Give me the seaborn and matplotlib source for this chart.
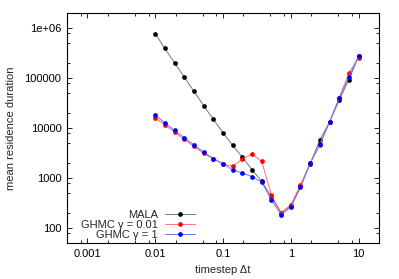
import matplotlib
matplotlib.use("Agg")
import matplotlib.pyplot as plt
import matplotlib.ticker as mticker
import seaborn as sns
import pandas as pd

# timesteps (log spaced, 7 per decade)
timestep = [0.01, 0.0139, 0.0193, 0.0268, 0.0373, 0.0518, 0.072, 0.1, 0.139, 0.193, 0.268,
            0.373, 0.518, 0.72, 1.0, 1.39, 1.93, 2.68, 3.73, 5.18, 7.2, 10.0]

mala = [7.7e5, 3.9e5, 2.0e5, 1.05e5, 5.4e4, 2.8e4, 1.5e4, 8.0e3, 4.5e3, 2.6e3, 1.46e3,
        855, 420, 200, 275, 690, 1.9e3, 5.8e3, 1.32e4, 3.6e4, 9.3e4, 2.7e5]
ghmc_001 = [1.59e4, 1.15e4, 8.3e3, 5.9e3, 4.27e3, 3.09e3, 2.42e3, 1.89e3, 1.73e3, 2.39e3, 3.0e3,
            2.14e3, 452, 202, 292, 725, 1.98e3, 4.56e3, 1.32e4, 4.0e4, 1.27e5, 2.5e5]
ghmc_1 = [1.82e4, 1.26e4, 8.95e3, 6.4e3, 4.6e3, 3.3e3, 2.45e3, 1.92e3, 1.46e3, 1.25e3, 1.07e3,
          824, 363, 184, 259, 645, 1.98e3, 4.69e3, 1.32e4, 4.0e4, 1.06e5, 2.74e5]

labels = ["MALA", "GHMC \u03b3 = 0.01", "GHMC \u03b3 = 1"]
marker_colors = ["black", "red", "blue"]
line_colors = ["#777777", "#ff7070", "#7070ff"]

df = pd.concat([
    pd.DataFrame({"dt": timestep, "dur": mala, "method": labels[0]}),
    pd.DataFrame({"dt": timestep, "dur": ghmc_001, "method": labels[1]}),
    pd.DataFrame({"dt": timestep, "dur": ghmc_1, "method": labels[2]}),
])

sns.set_style("ticks")
plt.rcParams["font.family"] = ["Liberation Sans", "DejaVu Sans"]

fig = plt.figure(figsize=(3.99, 2.79), dpi=100)
ax = fig.add_axes([67 / 399, 36 / 279, 312 / 399, 230 / 279])

sns.lineplot(data=df, x="dt", y="dur", hue="method", style="method",
             palette=dict(zip(labels, marker_colors)), markers=["o", "o", "o"],
             dashes=False, linewidth=0.7, markersize=3.4, markeredgewidth=0,
             ax=ax, legend=False)

# thin light lines, solid dots (gnuplot look)
for line, lc, mc in zip(ax.lines, line_colors, marker_colors):
    line.set_color(lc)
    line.set_markerfacecolor(mc)
    line.set_markeredgecolor(mc)

ax.set_xscale("log")
ax.set_yscale("log")
ax.set_xlim(0.0005, 20)
ax.set_ylim(50, 2e6)

fmt = mticker.FuncFormatter(lambda v, p: "%g" % v)
for axis in (ax.xaxis, ax.yaxis):
    axis.set_major_locator(mticker.LogLocator(base=10, numticks=20))
    axis.set_minor_locator(mticker.LogLocator(base=10, subs=[2, 5, 8], numticks=20))
    axis.set_major_formatter(fmt)
    axis.set_minor_formatter(mticker.NullFormatter())

ax.tick_params(which="both", direction="in", top=True, right=True, width=0.6,
               labelsize=8, colors="black")
ax.tick_params(which="major", length=3.5, pad=4)
ax.tick_params(which="minor", length=2)
for s in ax.spines.values():
    s.set_linewidth(0.8)
    s.set_color("black")

ax.set_xlabel("timestep \u0394t", fontsize=8, labelpad=4.5)
ax.set_ylabel("mean residence duration", fontsize=8, labelpad=6)

handles = [plt.Line2D([], [], color=lc, lw=0.7, marker="o", markersize=3.4,
                      markerfacecolor=mc, markeredgewidth=0)
           for lc, mc in zip(line_colors, marker_colors)]
ax.legend(handles, labels, loc="lower right", bbox_to_anchor=(0.42, 0.0),
          frameon=False, markerfirst=False, fontsize=8, handlelength=2.7,
          handletextpad=0.6, labelspacing=0.0, borderaxespad=0.3, borderpad=0)

fig.savefig("out.png", dpi=100)
